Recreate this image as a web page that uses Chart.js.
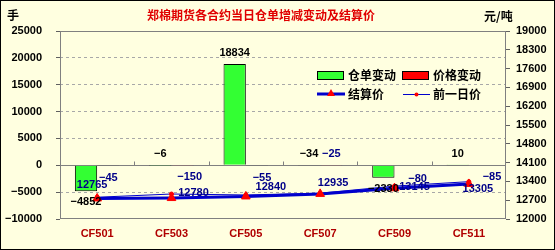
<!DOCTYPE html>
<html>
<head>
<meta charset="utf-8">
<script src="https://cdn.jsdelivr.net/npm/chart.js@4"></script>
<style>
  html, body { margin: 0; padding: 0; background: #fff; }
  canvas { display: block; }
</style>
</head>
<body>
<canvas id="warrantChart" width="555" height="250" style="width:555px;height:250px"></canvas>
<script>
// 数据
const categories = ['CF501', 'CF503', 'CF505', 'CF507', 'CF509', 'CF511'];
const warrantChange = [-4852, -6, 18834, -34, -2330, 10];
const priceChange = [-45, -150, -55, -25, -80, -85];
const settlePrice = [12765, 12780, 12840, 12935, 13145, 13305];
const prevPrice = [12810, 12930, 12895, 12960, 13225, 13390];
const leftTicks = [-10000, 25000, 5000];
const rightTicks = [12000, 19000, 700];

// label nudges (pixels), only styling
const priceLabelShift = [[0, 13], [7, 12], [5, 13], [0, -11], [12, 14], [12, 12]];
const settleLabelShift = [[-5, -13], [22, -5], [25, -9], [13, -11], [20, -1], [9, 5]];

const BG = '#FFFFE0';
const NAVY = '#000088';
const labelFont = 'bold 11px "Liberation Sans", Arial, sans-serif';
const cjkFont = 'bold 12px "Noto Sans CJK SC", sans-serif';
const minus = (v) => v.toString().replace('-', '\u2212');

const decorations = {
    id: 'decorations',
    beforeDraw(chart) {
        const c = chart.ctx;
        c.save();
        c.fillStyle = BG;
        c.fillRect(0, 0, chart.width, chart.height);
        c.restore();
    },
    beforeDatasetsDraw(chart) {
        const c = chart.ctx;
        const a = chart.chartArea;
        const y = chart.scales.y;
        const x = chart.scales.x;
        const y0 = Math.round(y.getPixelForValue(0)) + 0.5;
        c.save();
        c.strokeStyle = '#808080';
        c.lineWidth = 1;
        c.strokeRect(a.left + 0.5, a.top + 0.5, a.right - a.left - 1, a.bottom - a.top - 1);
        c.beginPath();
        c.moveTo(a.left, y0);
        c.lineTo(a.right, y0);
        // category tick marks on zero line
        for (let i = 0; i < categories.length - 1; i++) {
            const bx = Math.round((x.getPixelForValue(i) + x.getPixelForValue(i + 1)) / 2) + 0.5;
            c.moveTo(bx, y0);
            c.lineTo(bx, y0 - 4);
        }
        c.stroke();
        c.restore();
    },
    afterDatasetsDraw(chart) {
        const c = chart.ctx;
        const y = chart.scales.y;
        const y0 = y.getPixelForValue(0);
        const barMeta = chart.getDatasetMeta(0);
        const redMeta = chart.getDatasetMeta(1);
        const settleMeta = chart.getDatasetMeta(2);
        c.save();
        c.font = labelFont;
        c.textAlign = 'center';
        c.textBaseline = 'middle';

        // 仓单变动 labels
        c.fillStyle = '#000000';
        warrantChange.forEach((v, i) => {
            const bar = barMeta.data[i];
            let ly;
            if (v < -1000) ly = bar.y + 11;
            else if (v > 1000) ly = bar.y - 11;
            else ly = y0 - 11;
            c.fillText(minus(v), bar.x, ly);
        });

        // 价格变动 labels
        c.fillStyle = NAVY;
        priceChange.forEach((v, i) => {
            const bar = redMeta.data[i];
            const s = priceLabelShift[i];
            c.fillText(minus(v), bar.x + s[0], y0 + s[1]);
        });

        // 结算价 labels
        settlePrice.forEach((v, i) => {
            const p = settleMeta.data[i];
            const s = settleLabelShift[i];
            c.fillText(v.toString(), p.x + s[0], p.y + s[1]);
        });
        c.restore();
    },
    afterDraw(chart) {
        const c = chart.ctx;
        c.save();
        // title and unit labels
        c.font = cjkFont;
        c.textBaseline = 'middle';
        c.textAlign = 'center';
        c.fillStyle = '#E00000';
        c.fillText('郑棉期货各合约当日仓单增减变动及结算价', 261, 15);
        c.fillStyle = '#000000';
        c.textAlign = 'left';
        c.fillText('手', 7, 15);
        c.fillText('元/吨', 484, 16);

        // legend
        c.fillStyle = '#33FF33';
        c.fillRect(317.5, 71.5, 26, 8);
        c.strokeStyle = '#000000';
        c.lineWidth = 1;
        c.strokeRect(317.5, 71.5, 26, 8);
        c.fillStyle = '#FF0000';
        c.fillRect(402.5, 71.5, 26, 8);
        c.strokeRect(402.5, 71.5, 26, 8);

        c.strokeStyle = '#0000CC';
        c.lineWidth = 3;
        c.beginPath();
        c.moveTo(317, 94);
        c.lineTo(345, 94);
        c.stroke();
        c.fillStyle = '#FF0000';
        c.beginPath();
        c.moveTo(331, 89);
        c.lineTo(335, 96);
        c.lineTo(327, 96);
        c.closePath();
        c.fill();

        c.lineWidth = 1;
        c.beginPath();
        c.moveTo(403, 94.5);
        c.lineTo(430, 94.5);
        c.stroke();
        c.beginPath();
        c.arc(416.5, 94.5, 2, 0, Math.PI * 2);
        c.fill();

        c.fillStyle = '#000000';
        c.font = cjkFont;
        c.fillText('仓单变动', 348, 75);
        c.fillText('价格变动', 433, 75);
        c.fillText('结算价', 348, 94);
        c.fillText('前一日价', 433, 94);

        // outer frame
        c.strokeStyle = '#000000';
        c.lineWidth = 1;
        c.strokeRect(0.5, 0.5, chart.width - 1, chart.height - 1);
        c.restore();
    }
};

new Chart(document.getElementById('warrantChart'), {
    data: {
        labels: categories,
        datasets: [
            {
                type: 'bar',
                label: '仓单变动',
                data: warrantChange,
                yAxisID: 'y',
                backgroundColor: '#33FF33',
                borderColor: '#000000',
                borderWidth: 1,
                categoryPercentage: 0.6,
                barPercentage: 1.0,
                order: 2
            },
            {
                type: 'bar',
                label: '价格变动',
                data: priceChange,
                yAxisID: 'y',
                backgroundColor: '#FF0000',
                borderColor: '#000000',
                borderWidth: 1,
                categoryPercentage: 0.6,
                barPercentage: 1.0,
                order: 2
            },
            {
                type: 'line',
                label: '结算价',
                data: settlePrice,
                yAxisID: 'y2',
                borderColor: '#0000CC',
                borderWidth: 3,
                pointStyle: 'triangle',
                pointRadius: 5,
                pointBackgroundColor: '#FF0000',
                pointBorderColor: '#FF0000',
                pointBorderWidth: 1,
                tension: 0,
                order: 0
            },
            {
                type: 'line',
                label: '前一日价',
                data: prevPrice,
                yAxisID: 'y2',
                borderColor: '#0000CC',
                borderWidth: 1,
                pointStyle: 'circle',
                pointRadius: 2,
                pointBackgroundColor: '#FF0000',
                pointBorderColor: '#FF0000',
                tension: 0,
                order: 1
            }
        ]
    },
    options: {
        responsive: false,
        animation: false,
        layout: { padding: { top: 31, bottom: 0, left: 0, right: 0 } },
        plugins: {
            legend: { display: false },
            tooltip: { enabled: false },
            title: { display: false }
        },
        scales: {
            x: {
                offset: true,
                grid: { display: false, drawTicks: false },
                border: { display: false },
                ticks: {
                    color: '#B00000',
                    padding: 8,
                    font: { family: '"Liberation Sans", Arial, sans-serif', size: 11, weight: 'bold' }
                },
                afterFit: (s) => { s.height = 31; }
            },
            y: {
                position: 'left',
                min: leftTicks[0],
                max: leftTicks[1],
                ticks: {
                    stepSize: leftTicks[2],
                    color: '#000000',
                    padding: 14,
                    font: { family: '"Liberation Sans", Arial, sans-serif', size: 11, weight: 'bold' },
                    callback: (v) => minus(v)
                },
                grid: {
                    color: (ctx) => {
                        const v = ctx.tick && ctx.tick.value;
                        if (v === 0 || v === leftTicks[0] || v === leftTicks[1]) return 'rgba(0,0,0,0)';
                        return '#A8A8A8';
                    },
                    tickColor: '#606060',
                    tickLength: 4,
                    lineWidth: 1
                },
                border: { display: false, dash: [3, 3] },
                afterFit: (s) => { s.width = 60; }
            },
            y2: {
                position: 'right',
                min: rightTicks[0],
                max: rightTicks[1],
                ticks: {
                    stepSize: rightTicks[2],
                    color: '#000000',
                    padding: 6,
                    font: { family: '"Liberation Sans", Arial, sans-serif', size: 11, weight: 'bold' },
                    callback: (v) => v.toString()
                },
                grid: {
                    drawOnChartArea: false,
                    tickColor: '#606060',
                    tickLength: 4
                },
                border: { display: false },
                afterFit: (s) => { s.width = 49; }
            }
        }
    },
    plugins: [decorations]
});
</script>
</body>
</html>
